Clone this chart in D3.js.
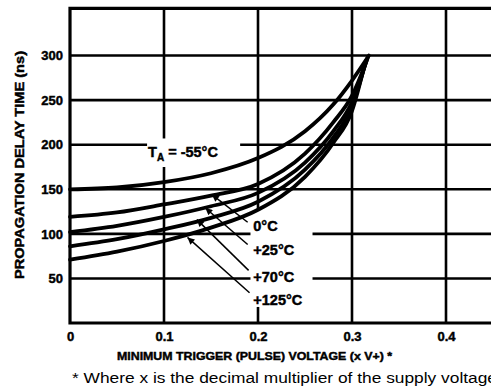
<!DOCTYPE html>
<html>
<head>
<meta charset="utf-8">
<script src="https://cdn.jsdelivr.net/npm/d3@7"></script>
<style>
  body { margin: 0; background: #fff; }
  svg { display: block; }
  text { font-family: "Liberation Sans", Arial, sans-serif; fill: #000; }
  .heavy { stroke: #000; stroke-width: 0.45px; }
</style>
</head>
<body>
<div id="chart-container"></div>
<script>
// trigger voltage (x V+) where the curves were read
var triggerVoltage = [0, 0.05, 0.1, 0.15, 0.2, 0.25, 0.28, 0.3];

// delay in ns for each temperature, last point is where each curve stops
var delayMinus55 = [150, 152, 158, 168, 185, 215, 245, 272];
var delay0 = [119, 124, 133, 143, 156, 190, 225, 255];
var delay25 = [102, 109, 119, 131, 146, 180, 215, 248];
var delay70 = [86, 94, 105, 118, 136, 172, 208, 243];
var delay125 = [71, 80, 92, 107, 127, 164, 202, 238];
var curveEnds = [[0.318, 300], [0.317, 298], [0.316, 296], [0.315, 294], [0.314, 292]];

var xTicks = [0, 0.1, 0.2, 0.3, 0.4];
var yTicks = [50, 100, 150, 200, 250, 300];
var tempLabels = ["0°C", "+25°C", "+70°C", "+125°C"];
// label anchor [x, y] and where its leader hits the curve
var labelAt = [[0.195, 109], [0.195, 82], [0.195, 52], [0.195, 26]];
var leaderFrom = [[0.189, 113], [0.189, 88], [0.190, 59], [0.191, 34]];
var leaderTo = [[0.151, 144], [0.144, 129], [0.135, 116], [0.125, 96]];

var width = 491, height = 388;
var yTop = 353;
var x = d3.scaleLinear().domain([0, 0.5]).range([70, 540]);
var y = d3.scaleLinear().domain([0, 350]).range([323, 11]);

var svg = d3.select("#chart-container").append("svg")
  .attr("width", width).attr("height", height);

svg.append("defs").append("marker")
  .attr("id", "arrow")
  .attr("viewBox", "0 0 10 10")
  .attr("refX", 10).attr("refY", 5)
  .attr("markerWidth", 9).attr("markerHeight", 7)
  .attr("markerUnits", "userSpaceOnUse")
  .attr("orient", "auto")
  .append("path").attr("d", "M0,0L10,5L0,10Z").attr("fill", "#000");

// grid, with gaps left open where the labels sit
var hGrid = yTicks.map(function(v) {
  var gaps = [];
  if (v == 200) gaps = [[0.082, 0.181]];
  if (v == 100 || v == 50) gaps = [[0.192, 0.258]];
  return {v: v, gaps: gaps};
});
var vGrid = xTicks.slice(1).concat([0.5]).map(function(t) {
  var gaps = [];
  if (t == 0.1) gaps = [[175, 207]];
  if (t == 0.2) gaps = [[18, 127]];
  return {t: t, gaps: gaps};
});

function splitSpans(lo, hi, gaps) {
  var spans = [], start = lo;
  gaps.forEach(function(g) { spans.push([start, g[0]]); start = g[1]; });
  spans.push([start, hi]);
  return spans;
}

hGrid.forEach(function(g) {
  splitSpans(0, 0.5, g.gaps).forEach(function(s) {
    svg.append("line")
      .attr("x1", x(s[0])).attr("x2", x(s[1]))
      .attr("y1", y(g.v)).attr("y2", y(g.v))
      .attr("stroke", "#000").attr("stroke-width", 2.6);
  });
});
vGrid.forEach(function(g) {
  splitSpans(0, yTop, g.gaps).forEach(function(s) {
    svg.append("line")
      .attr("x1", x(g.t)).attr("x2", x(g.t))
      .attr("y1", y(s[0])).attr("y2", y(s[1]))
      .attr("stroke", "#000").attr("stroke-width", 2.6);
  });
});

// frame: left, bottom, top
svg.append("path")
  .attr("d", "M" + x(0.5) + "," + y(yTop) + "H" + x(0) + "V" + y(0) + "H" + x(0.5))
  .attr("fill", "none").attr("stroke", "#000").attr("stroke-width", 3.2);

// axes (labels only, the grid does the lines)
var xAxis = svg.append("g")
  .attr("transform", "translate(0," + y(0) + ")")
  .call(d3.axisBottom(x).tickValues(xTicks).tickSize(0).tickPadding(9)
    .tickFormat(function(d) { return d == 0 ? "0" : d3.format(".1f")(d); }));
xAxis.select(".domain").remove();
xAxis.selectAll("text").attr("font-size", 13).attr("font-weight", "bold")
  .attr("class", "heavy")
  .attr("font-family", "Liberation Sans, Arial, sans-serif");

var yAxis = svg.append("g")
  .attr("transform", "translate(" + x(0) + ",0)")
  .call(d3.axisLeft(y).tickValues(yTicks).tickSize(0).tickPadding(7));
yAxis.select(".domain").remove();
yAxis.selectAll("text").attr("font-size", 13).attr("font-weight", "bold")
  .attr("class", "heavy")
  .attr("font-family", "Liberation Sans, Arial, sans-serif");

// curves
var series = [delayMinus55, delay0, delay25, delay70, delay125];
var line = d3.line()
  .x(function(d) { return x(d[0]); })
  .y(function(d) { return y(d[1]); })
  .curve(d3.curveMonotoneX);

series.forEach(function(vals, i) {
  var pts = triggerVoltage.map(function(t, j) { return [t, vals[j]]; });
  pts.push(curveEnds[i]);
  svg.append("path")
    .attr("d", line(pts))
    .attr("fill", "none")
    .attr("stroke", "#000")
    .attr("stroke-width", 3.8)
    .attr("stroke-linecap", "round");
});

// leaders and temperature labels
tempLabels.forEach(function(lbl, i) {
  svg.append("line")
    .attr("x1", x(leaderFrom[i][0])).attr("y1", y(leaderFrom[i][1]))
    .attr("x2", x(leaderTo[i][0])).attr("y2", y(leaderTo[i][1]))
    .attr("stroke", "#000").attr("stroke-width", 1.5)
    .attr("marker-end", "url(#arrow)");
  svg.append("text")
    .attr("class", "heavy")
    .attr("x", x(labelAt[i][0])).attr("y", y(labelAt[i][1]))
    .attr("dy", "0.36em")
    .attr("font-size", 14.5).attr("font-weight", "bold")
    .text(lbl);
});

var ta = svg.append("text")
  .attr("class", "heavy")
  .attr("x", x(0.083)).attr("y", y(186))
  .attr("font-size", 14.5).attr("font-weight", "bold");
ta.append("tspan").text("T");
ta.append("tspan").attr("dy", 4).attr("font-size", 10).text("A");
ta.append("tspan").attr("dy", -4).text(" = -55°C");

// axis titles
svg.append("text")
  .attr("class", "heavy")
  .attr("transform", "translate(24," + 165 + ") rotate(-90)")
  .attr("text-anchor", "middle")
  .attr("font-size", 12).attr("font-weight", "bold")
  .attr("textLength", 228).attr("lengthAdjust", "spacingAndGlyphs")
  .text("PROPAGATION DELAY TIME (ns)");

svg.append("text")
  .attr("class", "heavy")
  .attr("x", 117).attr("y", 360)
  .attr("font-size", 11.5).attr("font-weight", "bold")
  .attr("textLength", 275).attr("lengthAdjust", "spacingAndGlyphs")
  .text("MINIMUM TRIGGER (PULSE) VOLTAGE (x V+) *");

svg.append("text")
  .attr("x", 72).attr("y", 383)
  .attr("font-size", 14)
  .attr("textLength", 425).attr("lengthAdjust", "spacingAndGlyphs")
  .text("* Where x is the decimal multiplier of the supply voltage");
</script>
</body>
</html>
